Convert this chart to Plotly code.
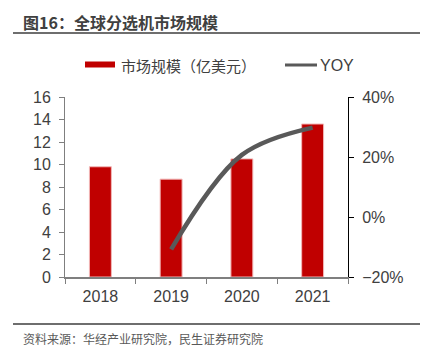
import plotly.graph_objects as go

years = ["2018", "2019", "2020", "2021"]
market_size = [9.8, 8.7, 10.5, 13.6]
yoy_years = ["2019", "2020", "2021"]
yoy = [-10.8, 20.7, 29.8]

title_text = "图16：全球分选机市场规模"
source_text = "资料来源：华经产业研究院，民生证券研究院"
bar_name = "市场规模（亿美元）"
line_name = "YOY"

W, H = 421, 354
ML, MR, MT, MB = 65, 73, 97, 77
PW, PH = W - ML - MR, H - MT - MB

def px(x):
    return (x - ML) / PW

def py(y):
    return (H - MB - y) / PH

FONT = "Liberation Sans, Arial, Noto Sans CJK SC"
CJK = "Noto Sans CJK SC, Liberation Sans"

fig = go.Figure()
fig.add_trace(go.Bar(x=years, y=market_size, name=bar_name,
                     marker=dict(color="#C00000", line=dict(color="#F2B8B8", width=1)),
                     showlegend=False))
fig.add_trace(go.Scatter(x=yoy_years, y=yoy, name=line_name, yaxis="y2", mode="lines",
                         line=dict(color="#595959", width=4.5, shape="spline"),
                         showlegend=False))

fig.update_layout(
    width=W, height=H,
    margin=dict(l=ML, r=MR, t=MT, b=MB),
    paper_bgcolor="white", plot_bgcolor="white",
    bargap=0.69,
    font=dict(family=FONT, size=16, color="#404040"),
    xaxis=dict(type="category", showline=True, linecolor="#7f7f7f", linewidth=1.5,
               ticks="outside", tickson="boundaries", ticklen=5, tickcolor="#7f7f7f",
               showgrid=False, ticklabelstandoff=4, tickfont=dict(size=16, color="#404040")),
    yaxis=dict(range=[0, 16], dtick=2, showline=True, linecolor="#7f7f7f", linewidth=1,
               ticks="outside", ticklen=5, tickcolor="#7f7f7f", showgrid=False, zeroline=False,
               ticklabelstandoff=5, tickfont=dict(size=16, color="#404040")),
    yaxis2=dict(range=[-20, 40], dtick=20, ticksuffix="%", overlaying="y", side="right",
                showline=True, linecolor="#000000", linewidth=1, ticks="outside", ticklen=5,
                tickcolor="#000000", showgrid=False, zeroline=False,
                ticklabelstandoff=5, tickfont=dict(size=16, color="#404040")),
)

shapes = [
    dict(type="line", xref="paper", yref="paper", x0=px(13), x1=px(420), y0=py(33), y1=py(33),
         line=dict(color="#6e6e6e", width=2)),
    dict(type="line", xref="paper", yref="paper", x0=px(13), x1=px(420), y0=py(324), y1=py(324),
         line=dict(color="#6e6e6e", width=2)),
    dict(type="rect", xref="paper", yref="paper", x0=px(85), x1=px(115), y0=py(67.5), y1=py(61.5),
         fillcolor="#C00000", line=dict(width=0)),
    dict(type="line", xref="paper", yref="paper", x0=px(285), x1=px(317), y0=py(65), y1=py(65),
         line=dict(color="#595959", width=3)),
]
annotations = [
    dict(text="<b>" + title_text + "</b>", xref="paper", yref="paper", x=px(21), y=py(22),
         xanchor="left", yanchor="middle", showarrow=False,
         font=dict(family=CJK, size=16, color="#404040")),
    dict(text=source_text, xref="paper", yref="paper", x=px(21), y=py(338),
         xanchor="left", yanchor="middle", showarrow=False,
         font=dict(family=CJK, size=12, color="#595959")),
    dict(text=bar_name, xref="paper", yref="paper", x=px(119), y=py(65),
         xanchor="left", yanchor="middle", showarrow=False,
         font=dict(family=CJK, size=15, color="#404040")),
    dict(text=line_name, xref="paper", yref="paper", x=px(318), y=py(65),
         xanchor="left", yanchor="middle", showarrow=False,
         font=dict(family=FONT, size=16, color="#404040")),
]
fig.update_layout(shapes=shapes, annotations=annotations)

fig.write_html("out.html")
